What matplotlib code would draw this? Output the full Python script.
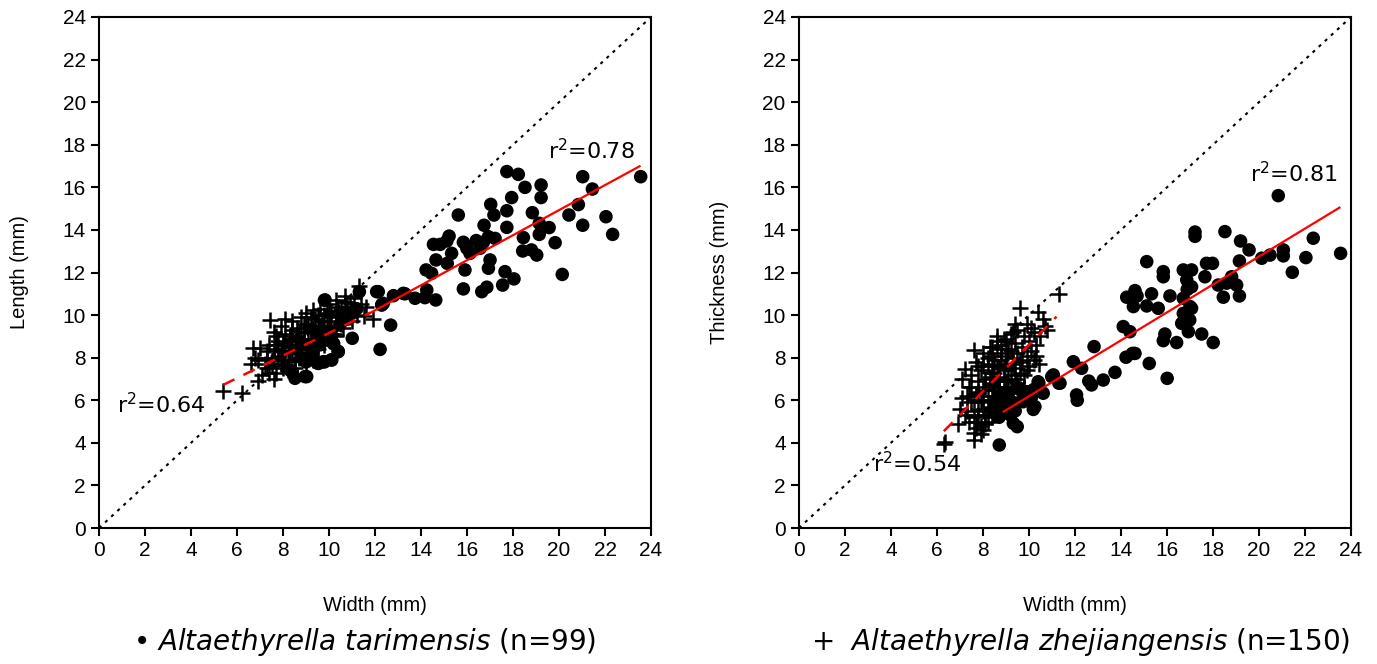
"""
Width vs length / thickness scatter for two Altaethyrella species
"""

import numpy as np
import matplotlib
matplotlib.use("Agg")
import matplotlib.pyplot as plt

# ---- data ----
# A. tarimensis (dots): width vs length (left panel)
tar_w_left = [17.73, 18.23, 18.52, 19.22, 19.22, 17.94, 21.03, 21.45, 23.55, 20.84,
              20.43, 22.04, 21.03, 22.33, 15.62, 17.03, 17.17, 17.73, 18.84, 16.74,
              17.73, 19.14, 19.57, 19.14, 15.22, 14.54, 14.83, 15.12, 15.84, 16.71,
              16.93, 17.22, 18.45, 19.83, 15.33, 15.99, 16.13, 16.57, 18.42, 19.03,
              18.80, 14.65, 15.14, 17.00, 16.93, 15.91, 14.22, 14.46, 17.65, 18.04,
              20.14, 15.84, 16.64, 16.86, 17.55, 12.07, 12.80, 13.23, 13.74, 14.17,
              14.25, 14.64, 12.36, 12.68, 12.22, 11.01, 12.14, 9.83, 11.32, 12.29,
              10.40, 10.12, 9.54, 9.03, 8.52, 8.38, 10.19, 8.96, 9.75, 8.30,
              8.40, 9.00, 9.50, 9.80, 10.10, 10.20, 10.40, 9.80, 12.30, 9.30,
              9.60, 10.00, 10.50, 8.80, 10.70, 11.20, 9.00, 13.30, 16.40]
tar_length = [16.74, 16.61, 16.00, 16.11, 15.52, 15.52, 16.50, 15.92, 16.50, 15.19,
              14.70, 14.62, 14.22, 13.79, 14.70, 15.20, 14.70, 14.90, 14.81, 14.22,
              14.12, 14.31, 14.11, 13.79, 13.71, 13.32, 13.32, 13.48, 13.42, 13.42,
              13.68, 13.60, 13.64, 13.40, 12.90, 13.14, 12.90, 13.14, 13.01, 12.82,
              13.06, 12.59, 12.43, 12.59, 12.20, 12.12, 12.12, 11.96, 12.04, 11.70,
              11.91, 11.23, 11.10, 11.31, 11.41, 11.10, 10.91, 11.02, 10.79, 10.82,
              11.18, 10.71, 10.55, 9.53, 8.39, 8.91, 11.10, 10.71, 11.10, 10.47,
              8.28, 7.89, 7.73, 7.11, 7.03, 7.34, 8.67, 7.11, 7.81, 7.42,
              7.35, 7.80, 7.75, 7.80, 7.90, 8.65, 8.30, 10.70, 10.50, 8.20,
              8.60, 9.20, 9.60, 8.00, 10.00, 10.30, 8.60, 11.00, 13.50]

# A. zhejiangensis (pluses): width vs length (left panel)
zhe_w_left = [5.4, 6.2, 6.9, 7.1, 7.45, 6.6, 6.7, 7.0, 7.6, 11.3, 11.9, 11.5, 10.9, 9.3, 6.8,
              7.3, 7.5, 7.3, 7.6, 7.8, 7.9, 8.0, 8.1, 8.2, 8.3, 8.4, 8.5, 8.6, 8.7, 8.8,
              8.9, 9.0, 9.1, 9.2, 9.3, 9.4, 9.5, 9.6, 9.7, 9.8, 9.9, 10.0, 10.1, 10.2, 10.3,
              10.4, 10.5, 10.6, 10.7, 10.8, 11.0, 11.1, 11.2, 11.6, 7.7, 8.0, 8.2, 8.5, 8.7, 9.0,
              9.2, 9.5, 9.8, 10.0, 10.3, 10.6, 8.3, 8.6, 8.9, 9.1, 8.4, 8.8, 9.0, 9.6, 10.0,
              10.3, 7.9, 8.1, 7.6, 7.8, 8.0, 8.3, 8.6, 9.2, 9.4, 9.7, 10.1, 10.4, 10.9, 11.4,
              8.2, 8.5, 7.5, 7.2, 6.9, 7.4, 7.7, 8.8, 9.1, 9.4, 9.9, 10.2, 10.5, 10.8, 11.0,
              8.4, 8.7, 9.3, 9.6, 9.9, 8.1, 8.4, 7.9, 7.4, 7.6, 8.9, 9.5, 10.7, 9.0, 9.3,
              7.3, 7.7, 8.0, 8.3, 8.6, 8.9, 9.2, 9.5, 9.8, 10.1]
zhe_length = [6.45, 6.35, 6.9, 7.2, 9.75, 7.7, 8.45, 8.45, 9.2, 11.35, 9.8, 9.95, 10.55, 10.25, 8.0,
              7.5, 7.6, 8.3, 8.0, 8.8, 8.3, 7.9, 9.1, 8.6, 8.2, 9.3, 8.8, 9.0, 8.4, 9.2,
              8.7, 9.5, 8.9, 9.3, 8.6, 9.8, 9.1, 9.5, 8.8, 10.0, 9.4, 9.7, 10.2, 9.3, 9.9,
              10.4, 9.6, 10.1, 10.6, 9.9, 10.3, 10.8, 10.0, 10.4, 7.3, 7.5, 7.8, 7.9, 8.0, 8.2,
              8.0, 8.4, 8.6, 8.9, 9.0, 9.4, 8.5, 8.6, 8.9, 9.6, 9.7, 9.9, 10.1, 10.3, 10.5,
              10.7, 9.5, 9.8, 8.4, 8.1, 8.7, 9.0, 9.4, 9.9, 9.2, 9.7, 9.5, 10.0, 9.9, 10.5,
              7.4, 7.5, 7.9, 7.7, 7.9, 8.6, 9.0, 8.2, 8.5, 8.7, 9.0, 9.1, 10.3, 10.4, 9.7,
              8.3, 8.9, 9.4, 9.0, 10.1, 8.2, 8.8, 7.7, 7.3, 7.0, 9.6, 10.0, 10.9, 7.7, 7.9,
              8.0, 8.6, 8.3, 8.9, 8.2, 9.2, 8.8, 9.3, 9.3, 9.1]

# A. tarimensis (dots): width vs thickness (right panel)
tar_w_right = [20.84, 17.22, 17.22, 18.52, 19.20, 19.57, 20.12, 20.48, 21.06, 21.06,
               22.36, 22.04, 21.45, 23.55, 19.15, 15.12, 15.84, 15.84, 16.71, 17.07,
               17.72, 17.98, 17.65, 16.86, 17.07, 18.81, 18.23, 18.60, 19.03, 18.45,
               19.15, 14.25, 14.61, 14.70, 15.33, 14.54, 15.12, 15.62, 16.13, 16.71,
               16.88, 17.00, 16.71, 17.07, 16.64, 16.99, 16.93, 17.51, 18.01, 15.91,
               15.84, 16.42, 14.10, 14.39, 14.61, 14.22, 15.23, 12.83, 16.01, 13.74,
               13.23, 11.93, 12.29, 11.06, 12.72, 14.50, 12.07, 12.10, 11.35, 10.43,
               10.62, 10.26, 10.10, 9.75, 9.32, 9.49, 8.71, 9.20, 8.70, 10.40,
               10.99, 11.30, 10.19, 12.60, 8.60, 8.90, 9.10, 9.40, 9.70, 10.00,
               8.80, 9.00, 9.30, 9.60, 9.90, 8.50, 8.70, 9.50, 10.20]
tar_thick = [15.61, 13.70, 13.90, 13.92, 13.48, 13.06, 12.67, 12.82, 13.06, 12.78,
             13.61, 12.70, 12.01, 12.90, 12.54, 12.51, 12.04, 11.80, 12.12, 12.12,
             12.43, 12.43, 11.80, 11.65, 11.33, 11.80, 11.41, 11.50, 11.41, 10.84,
             10.90, 10.84, 11.15, 10.90, 11.00, 10.40, 10.43, 10.32, 10.90, 10.79,
             11.20, 10.40, 10.08, 10.32, 9.61, 9.77, 9.22, 9.11, 8.71, 9.11,
             8.80, 8.71, 9.46, 9.22, 8.20, 8.02, 7.73, 8.52, 7.03, 7.31,
             6.95, 7.81, 7.50, 7.19, 6.72, 8.20, 6.25, 6.00, 6.80, 6.80,
             6.33, 5.70, 6.10, 5.93, 4.92, 4.76, 3.90, 5.30, 5.20, 6.87,
             7.11, 6.80, 5.57, 6.90, 5.60, 5.40, 5.80, 5.50, 6.00, 6.20,
             6.10, 6.30, 5.90, 6.50, 6.40, 5.80, 6.20, 6.60, 6.50]

# A. zhejiangensis (pluses): width vs thickness (right panel)
zhe_w_right = [6.3, 6.35, 11.3, 9.6, 10.4, 10.6, 10.8, 7.6, 7.1, 6.9, 7.6, 7.6, 10.3, 10.45, 7.1,
               7.2, 7.3, 7.4, 7.5, 7.5, 7.6, 7.7, 7.7, 7.8, 7.8, 7.9, 7.9, 8.0, 8.0, 8.0,
               8.1, 8.1, 8.2, 8.2, 8.3, 8.3, 8.3, 8.4, 8.4, 8.5, 8.5, 8.5, 8.6, 8.6, 8.7,
               8.7, 8.8, 8.8, 8.9, 8.9, 9.0, 9.0, 9.1, 9.1, 9.2, 9.2, 9.3, 9.3, 9.4, 9.4,
               9.5, 9.5, 9.6, 9.7, 9.8, 9.8, 9.9, 10.0, 10.0, 10.1, 10.2, 10.3, 7.4, 7.7, 8.0,
               8.2, 7.9, 8.1, 8.4, 8.6, 8.7, 8.9, 9.0, 9.2, 9.4, 9.6, 8.3, 8.5, 8.7, 8.9,
               9.1, 9.3, 8.6, 8.8, 9.0, 9.2, 8.4, 8.6, 8.8, 9.0, 9.3, 9.5, 9.7, 9.9, 10.1,
               10.5, 10.7, 7.6, 7.8, 7.5, 7.3, 7.0, 7.2, 7.8, 8.0, 8.2, 8.4, 8.6, 8.8, 9.0,
               8.1, 7.9, 7.7, 8.5, 8.7, 8.9, 9.1, 9.3, 9.6, 9.8, 8.0, 8.2, 7.8, 8.4, 8.6,
               9.4, 9.9, 10.2]
zhe_thick = [3.95, 4.05, 11.0, 10.35, 10.15, 9.8, 9.3, 8.35, 6.1, 4.9, 4.45, 4.15, 8.1, 7.7, 7.0,
             7.45, 5.5, 6.6, 5.9, 7.2, 5.2, 6.3, 7.8, 5.6, 6.9, 4.8, 7.4, 5.9, 6.5, 8.2,
             5.3, 7.0, 6.2, 7.7, 5.7, 6.8, 8.5, 6.0, 7.3, 5.4, 6.5, 7.9, 6.9, 8.8, 5.8,
             7.5, 6.3, 8.2, 7.0, 8.9, 5.9, 7.7, 6.6, 8.4, 7.2, 9.1, 6.1, 8.0, 7.5, 8.7,
             6.8, 9.3, 7.9, 8.5, 7.2, 9.0, 8.1, 7.6, 8.8, 9.4, 7.9, 8.6, 5.0, 5.0, 4.6,
             5.0, 6.0, 6.6, 6.7, 6.1, 6.6, 6.4, 6.9, 6.4, 7.0, 7.3, 7.1, 7.3, 7.1, 7.6,
             7.4, 7.7, 7.6, 7.9, 8.1, 8.3, 8.1, 8.4, 8.6, 8.8, 9.2, 8.2, 7.8, 7.4, 8.3,
             9.0, 9.5, 6.0, 6.4, 6.6, 6.2, 5.6, 5.3, 5.3, 5.5, 5.6, 5.2, 5.6, 5.5, 5.6,
             4.9, 4.4, 4.7, 6.2, 6.9, 5.9, 6.1, 6.6, 6.4, 6.6, 7.6, 8.0, 7.6, 8.5, 9.0,
             9.6, 9.6, 9.2]

# regression lines: (x start, x end, slope, intercept)
fit_tar_left = (11.7, 23.5, 0.588, 3.17)
fit_zhe_left = (5.4, 11.8, 0.530, 3.86)
fit_tar_right = (8.9, 23.5, 0.656, -0.37)
fit_zhe_right = (6.3, 11.2, 1.098, -2.37)

r2_left = ("0.78", "0.64")
r2_right = ("0.81", "0.54")

species = ["Altaethyrella tarimensis", "Altaethyrella zhejiangensis"]
n_counts = [99, 150]


def draw_panel(ax, tw, ty, zw, zy, fit_t, fit_z, ylabel):
    """Scatter for one panel with 1:1 line and regressions"""
    ax.plot([0, 24], [0, 24], ls=(0, (1.5, 2.5)), color="black", lw=1.5, zorder=1)

    ax.scatter(tw, ty, s=95, color="black", edgecolors="none", zorder=3)
    ax.plot(zw, zy, ls="none", marker="+", ms=11, mew=1.8, color="black", zorder=3)

    x0, x1, m, b = fit_t
    xs = np.array([x0, x1])
    ax.plot(xs, m * xs + b, color="red", lw=1.6, zorder=4)
    x0, x1, m, b = fit_z
    xs = np.array([x0, x1])
    ax.plot(xs, m * xs + b, color="red", lw=1.8, ls=(0, (5, 4)), zorder=4)

    ax.set_xlim(0, 24)
    ax.set_ylim(0, 24)
    ax.set_xticks(np.arange(0, 25, 2))
    ax.set_yticks(np.arange(0, 25, 2))
    ax.tick_params(direction="out", length=6, width=1.5, labelsize=15,
                   top=False, right=False)
    for lab in ax.get_xticklabels() + ax.get_yticklabels():
        lab.set_family("Liberation Sans")
    for sp in ax.spines.values():
        sp.set_linewidth(1.5)
    ax.set_xlabel("Width (mm)", fontsize=14.5, family="Liberation Sans", labelpad=26)
    ax.set_ylabel(ylabel, fontsize=14.5, family="Liberation Sans", labelpad=24)


fig = plt.figure(figsize=(13.77, 6.64), dpi=100)
ax1 = fig.add_axes([0.0719, 0.2048, 0.4009, 0.7696])
ax2 = fig.add_axes([0.5802, 0.2048, 0.4009, 0.7696])

draw_panel(ax1, tar_w_left, tar_length, zhe_w_left, zhe_length,
           fit_tar_left, fit_zhe_left, "Length (mm)")
draw_panel(ax2, tar_w_right, tar_thick, zhe_w_right, zhe_thick,
           fit_tar_right, fit_zhe_right, "Thickness (mm)")

# r^2 annotations
ax1.text(19.5, 17.3, r"r$^2$=" + r2_left[0], fontsize=16)
ax1.text(0.8, 5.4, r"r$^2$=" + r2_left[1], fontsize=16)
ax2.text(19.6, 16.25, r"r$^2$=" + r2_right[0], fontsize=16)
ax2.text(3.2, 2.6, r"r$^2$=" + r2_right[1], fontsize=16)

# species captions under each panel
names = [n.replace(" ", r"\ ") for n in species]
fig.text(0.265, 0.033, "\u2022 $\\mathit{%s}$ (n=%d)" % (names[0], n_counts[0]),
         ha="center", va="center", fontsize=20)
fig.text(0.785, 0.033, "+  $\\mathit{%s}$ (n=%d)" % (names[1], n_counts[1]),
         ha="center", va="center", fontsize=20)

fig.savefig("out.png", dpi=100)
